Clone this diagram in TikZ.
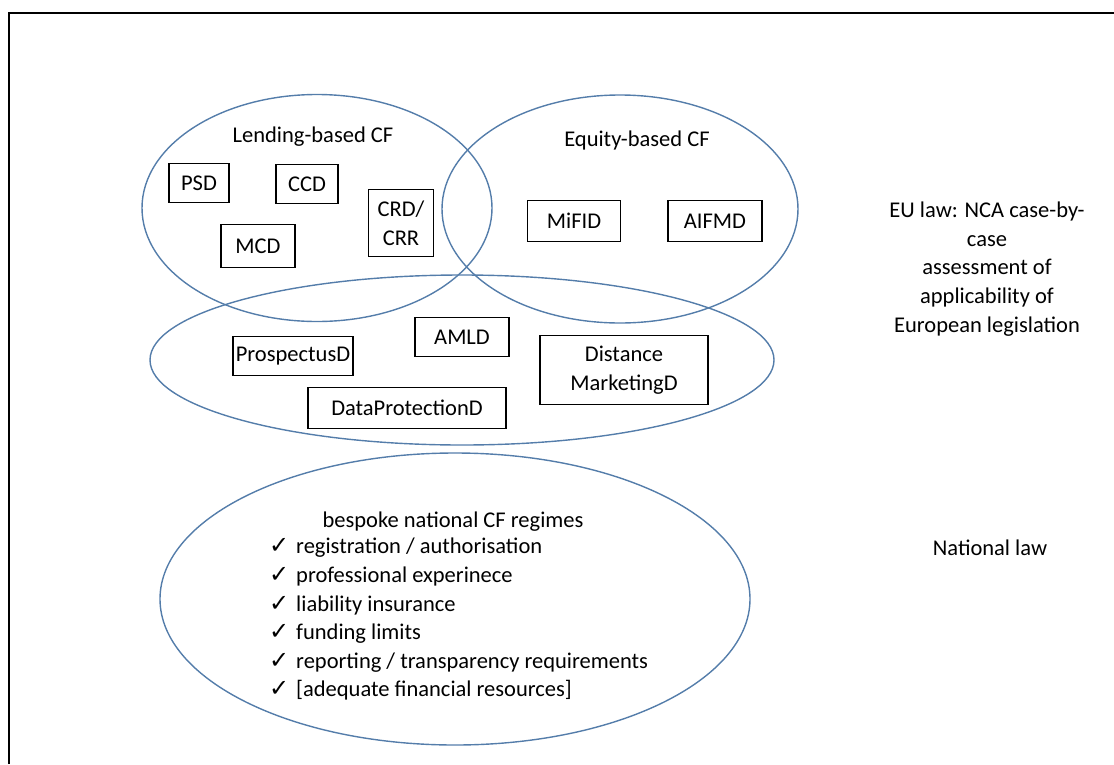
\documentclass[tikz,border=0pt]{standalone}
\usepackage{fontspec}
\setmainfont{Carlito}
\newfontfamily\symfont{DejaVu Sans}
\usetikzlibrary{shapes.geometric}
\definecolor{ringInk}{RGB}{84,125,170}
\newcommand{\tick}{\makebox[27pt][l]{\symfont\fontsize{24}{28.6}\selectfont\char"2713}}

\begin{document}
\begin{tikzpicture}[x=1pt,y=-1pt,
  font=\fontsize{22.5}{28.6}\selectfont,
  ring/.style={draw=ringInk, line width=1.4pt, ellipse, inner sep=0pt},
  reg/.style ={draw=black, line width=1.4pt, align=center, inner sep=0pt},
  lab/.style ={align=center, inner sep=0pt},
]
\useasboundingbox (0,0) rectangle (1114,764);
\draw[line width=2.4pt] (9,764) -- (9,13) -- (1114,13);

% ================= CIRCLES =================
\node[ring, minimum width=350, minimum height=227] (lend) at (317,208) {};
\node[ring, minimum width=356, minimum height=228] (equi) at (620,209) {};
\node[ring, minimum width=624, minimum height=170] (comm) at (462,360) {};
\node[ring, minimum width=590, minimum height=292] (natl) at (455,599) {};

% ================= LENDING =================
\node[lab] (lendT) at (313,137) {Lending-based CF};
\node[reg, minimum width=60, minimum height=39] (psd) at (199,183) {PSD};
\node[reg, minimum width=62, minimum height=39] (ccd) at (307,184) {CCD};
\node[reg, minimum width=65, minimum height=67] (crd) at (401,223) {CRD/\\CRR};
\node[reg, minimum width=74, minimum height=43] (mcd) at (258,246) {MCD};

% ================= EQUITY =================
\node[lab] (equiT) at (637,140) {Equity-based CF};
\node[reg, minimum width=93, minimum height=41] (mifid) at (574,221) {MiFID};
\node[reg, minimum width=94, minimum height=41] (aifmd) at (715,221) {AIFMD};

% ================= COMMON =================
\node[reg, minimum width=120, minimum height=39] (prosp) at (293,356) {ProspectusD};
\node[reg, minimum width=94, minimum height=39] (amld) at (462,337) {AMLD};
\node[reg, minimum width=168, minimum height=69] (dist) at (624,370) {Distance\\MarketingD};
\node[reg, minimum width=198, minimum height=41] (datap) at (407,408) {DataProtectionD};

% ================= NATIONAL =================
\node[lab] (natlT) at (453,522) {bespoke national CF regimes};
\node[lab, align=left, anchor=north west] (list) at (269,538)
  {\tick registration / authorisation\\
   \tick professional experinece\\
   \tick liability insurance\\
   \tick funding limits\\
   \tick reporting / transparency requirements\\
   \tick [adequate financial resources]};

% ================= RIGHT TEXT =================
\node[lab] (euT) at (987,269) {EU law: NCA case-by-\\case\\assessment of\\applicability of\\European legislation};
\node[lab] (natT) at (990,548) {National law};

\end{tikzpicture}
\end{document}
